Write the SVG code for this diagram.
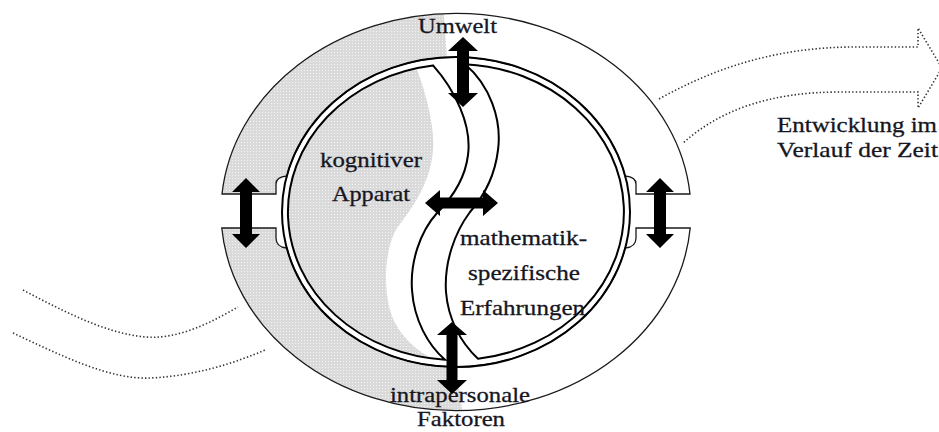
<svg xmlns="http://www.w3.org/2000/svg" width="939" height="432" viewBox="0 0 939 432">
<defs>
<pattern id="dots" width="3" height="3" patternUnits="userSpaceOnUse">
<rect width="3" height="3" fill="#dadada"/>
<rect x="1" y="1" width="1" height="1" fill="#f4f4f4"/>
</pattern>
<clipPath id="grayClip">
<path d="M0,0 L443,0 L445,30 L447,58 L415,64 C425,90 435,125 433,150 C431,180 415,205 397,228 C385,248 383,285 390,310 C396,332 415,352 440,362 C455,368 462,380 463,432 L0,432 Z"/>
</clipPath>
</defs>
<style>
.band{stroke:#1a1a1a;stroke-width:1.3;fill:none}
.ring{fill:none;stroke:#000;stroke-width:2}
.arrow{fill:#000}
.dot{fill:none;stroke:#333;stroke-width:1.6;stroke-dasharray:1.4 2.2}
text{font-family:"Liberation Serif","Times New Roman",serif;font-size:22px;fill:#16161f;stroke:#16161f;stroke-width:0.3}
</style>
<rect width="939" height="432" fill="#fff"/>

<g id="shading" clip-path="url(#grayClip)" fill="url(#dots)">
<path d="M222,194 A235 199 0 0 1 690,194 L636,194 L636,184 Q636,177 625.2,176 A174 155 0 0 0 286.8,176 Q276,177 276,184 L276,194 Z"/>
<path d="M221.8,228 A235 199 0 0 0 690.2,228 L636,228 L636,238 Q636,247 625.2,248 A174 155 0 0 1 286.8,248 Q276,247 276,238 L276,228 Z"/>
<path d="M433,65.4 C455,90 472,125 468,155 C465,180 452,198 437,213 C420,232 410,262 412,290 C414,320 428,345 445,359.7 A168 148 0 0 1 433,65.4 Z"/>
</g>

<g id="umwelt-band">
<path class="band" d="M222,194 A235 199 0 0 1 690,194 L636,194 L636,184 Q636,177 625.2,176 A174 155 0 0 0 286.8,176 Q276,177 276,184 L276,194 Z"/>
<path class="band" d="M221.8,228 A235 199 0 0 0 690.2,228 L636,228 L636,238 Q636,247 625.2,248 A174 155 0 0 1 286.8,248 Q276,247 276,238 L276,228 Z"/>
<ellipse class="ring" cx="456" cy="212" rx="174" ry="155"/>
</g>

<g id="kognitiver-apparat">
<path class="ring" d="M433,65.4 C455,90 472,125 468,155 C465,180 452,198 437,213 C420,232 410,262 412,290 C414,320 428,345 445,359.7 A168 148 0 0 1 433,65.4 Z"/>
<text x="320" y="167" textLength="102" lengthAdjust="spacingAndGlyphs">kognitiver</text>
<text x="332" y="201" textLength="78" lengthAdjust="spacingAndGlyphs">Apparat</text>
</g>

<g id="mathematik-erfahrungen">
<path class="ring" d="M465,64.2 C490,85 502,120 498,150 C495,175 485,195 470,212 C455,232 444,262 446,292 C448,318 460,342 478,358.7 A168 148 0 0 0 465,64.2 Z"/>
<text x="460" y="245" textLength="127" lengthAdjust="spacingAndGlyphs">mathematik-</text>
<text x="468" y="280" textLength="112" lengthAdjust="spacingAndGlyphs">spezifische</text>
<text x="460" y="315" textLength="125" lengthAdjust="spacingAndGlyphs">Erfahrungen</text>
</g>

<g id="umwelt">
<text x="418" y="33" textLength="79" lengthAdjust="spacingAndGlyphs">Umwelt</text>
</g>

<g id="intrapersonale-faktoren">
<text x="390" y="402" textLength="140" lengthAdjust="spacingAndGlyphs">intrapersonale</text>
<text x="417" y="426" textLength="88" lengthAdjust="spacingAndGlyphs">Faktoren</text>
</g>

<g id="entwicklung">
<path class="dot" d="M659,99 C720,65 780,48 850,47 L918,47 L918,28 L942,68 L918,108 L918,92 L840,92 C770,92 720,110 683,143"/>
<path class="dot" d="M23,290 C70,315 120,340 160,337 C190,334 215,320 238,307"/>
<path class="dot" d="M13,333 C60,355 110,380 150,378 C195,376 235,363 265,350"/>
<text x="777" y="132" textLength="160" lengthAdjust="spacingAndGlyphs">Entwicklung im</text>
<text x="777" y="157" textLength="161" lengthAdjust="spacingAndGlyphs">Verlauf der Zeit</text>
</g>

<g id="connectors" class="arrow">
<polygon points="463,37 478,51 469,51 469,93 478,93 463,107 448,93 457,93 457,51 448,51"/>
<polygon points="425,203 440,190 440,197.5 483,197.5 483,190 498,203 483,216 483,208.5 440,208.5 440,216"/>
<polygon points="452,322 467,335 457.5,335 457.5,380 467,380 452,394 437,380 446.5,380 446.5,335 437,335"/>
<polygon points="246,178 260,192 252,192 252,234 260,234 246,248 232,234 240,234 240,192 232,192"/>
<polygon points="660,178 674,192 666,192 666,234 674,234 660,248 646,234 654,234 654,192 646,192"/>
</g>
</svg>
